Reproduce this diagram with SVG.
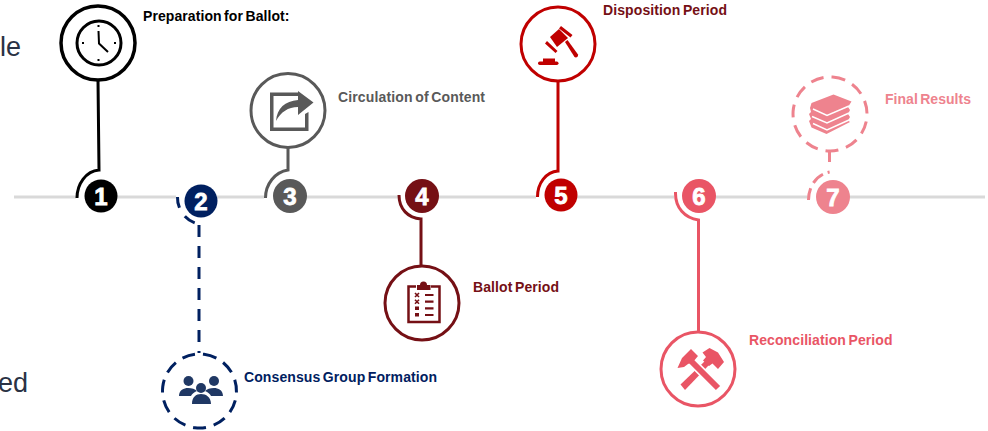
<svg xmlns="http://www.w3.org/2000/svg" width="988" height="431" viewBox="0 0 988 431">
<style>
text{font-family:"Liberation Sans",Arial,sans-serif}
.lbl{font-size:14px;font-weight:700;word-spacing:-1.500px}
.num{font-size:24px;font-weight:700;fill:#fff;text-anchor:middle;stroke:#fff;stroke-width:.8px}
.bg{font-size:27px;fill:#2a3244}
.o{fill:#fff;stroke-width:3px}
.l{fill:none;stroke-width:3px}
.d{stroke-dasharray:13 8}
</style>
<rect width="988" height="431" fill="#fff"/>
<text class="bg" x="0" y="56">le</text>
<text class="bg" x="-2" y="392">ed</text>
<g id="connectors">
<path fill="none" stroke="#d9d9d9" stroke-width="3" d="M14 197H76M117 197H176M217 197H264M306 197H398M438 197H536M577 197H674M715 197H809M849 197H985"/>
<path class="l" stroke="#000" d="M77 198C77 184 86 171 99 170L98 80"/>
<path class="l" stroke="#002060" stroke-dasharray="11 10 12" d="M177.500 197C177 209 186 222 199 224"/>
<path class="l" stroke="#002060" stroke-dasharray="12 9" d="M199 225V353"/>
<path class="l" stroke="#595959" d="M265.500 198C265.500 184 275 172 288 170L288 147"/>
<path class="l" stroke="#751015" d="M399 195C399 209 408 218 421 219L421 267"/>
<path class="l" stroke="#c00000" d="M537.500 197C537.500 183 546 172 558 171L558 81"/>
<path class="l" stroke="#e95565" d="M675.500 192C675 208 685 218 698.500 220L698.500 333"/>
<path class="l" stroke="#ee838e" stroke-dasharray="12 6 13 5 2 9" d="M808.500 200C808.500 186 817 174 830 172"/>
<path class="l" stroke="#ee838e" d="M829.500 162V150"/>
</g>
<g id="node-1">
<circle class="o" stroke="#000" style="stroke-width:3.500px" cx="98" cy="43" r="37"/>
<circle fill="none" stroke="#000" stroke-width="3" cx="99" cy="43" r="22"/>
<path fill="none" stroke="#000" stroke-width="2" d="M98.500 31L99 43.500 108 52"/>
<path stroke="#000" stroke-width="2" d="M98.500 25v2M98.500 59v2M82 43h2M114 43h2"/>
<circle cx="101" cy="196" r="16.500" fill="#000"/>
<text class="num" x="101" y="205">1</text>
<text class="lbl" x="143" y="21" fill="#000" textLength="146.500">Preparation for Ballot:</text>
</g>
<g id="node-2">
<circle class="o d" stroke="#002060" cx="199.500" cy="391" r="37" transform="rotate(-83 199.500 391)"/>
<g fill="#203864">
<circle cx="188.500" cy="381" r="5"/><circle cx="214" cy="381" r="5"/><circle cx="201" cy="388" r="5"/>
<path d="M179 396c0-6 5-8 9-8 4 0 7 1 9 3-3 1-5 3-6 5zM223 396c0-6-5-8-9-8-4 0-7 1-9 3 3 1 5 3 6 5zM192 404c0-7 4-10 9-10s10 3 10 10z"/>
</g>
<circle cx="201" cy="201" r="16.500" fill="#002060"/>
<text class="num" x="201" y="210">2</text>
<text class="lbl" x="244" y="382" fill="#002060" textLength="193">Consensus Group Formation</text>
</g>
<g id="node-3">
<circle class="o" stroke="#595959" cx="288" cy="110.500" r="37"/>
<path fill="#595959" d="M270 92.500H298V96H273.500V127.500H305V114L308.500 112V131H270zM276 121C277 108 285 101 298 100V91L313.500 102.500 298 115V107C288 107 281 112 276 121Z"/>
<circle cx="290" cy="196" r="17" fill="#595959"/>
<text class="num" x="290" y="205">3</text>
<text class="lbl" x="338" y="102" fill="#595959" textLength="147">Circulation of Content</text>
</g>
<g id="node-4">
<circle class="o" stroke="#751015" cx="422" cy="303" r="37"/>
<path fill="none" stroke="#751015" stroke-width="2.500" d="M416 286.500H408.500V322H439.500V286.500H431"/>
<path fill="#751015" d="M417 285H420a3.500 3.500 0 0 1 7 0H430.500V290H417z"/>
<path fill="none" stroke="#751015" stroke-width="2.200" d="M425 295h8.500M425 301.700h8.500M425 308.300h8.500M425 315h8.500"/>
<path fill="none" stroke="#751015" stroke-width="1.600" d="M415 293l4 4m0-4-4 4M415 299.700l4 4m0-4-4 4"/>
<path fill="#751015" d="M415 306.500h4v3.500h-4zM415 313h4v3.500h-4z"/>
<circle cx="422" cy="196" r="17" fill="#751015"/>
<text class="num" x="422" y="205">4</text>
<text class="lbl" x="473" y="292" fill="#751015" textLength="86">Ballot Period</text>
</g>
<g id="node-5">
<circle class="o" stroke="#c00000" cx="558" cy="44" r="37"/>
<g fill="#c00000">
<path d="M550 37L559 29 568 38 557 47z"/>
<path d="M561 26L572.500 35 570.500 37.500 559 28.500zM547 41L557.500 51 555.500 53 545 43.500z"/>
<path d="M565 42L567.500 40 578 54.500C578.500 57 576 58 574.500 57z"/>
<rect x="538" y="61.500" width="20.500" height="3.500" rx="1.700"/>
<rect x="543" y="58.500" width="12" height="3.500"/>
</g>
<circle cx="561" cy="195" r="16.500" fill="#c00000"/>
<text class="num" x="561" y="204">5</text>
<text class="lbl" x="603" y="15" fill="#751015" textLength="124">Disposition Period</text>
</g>
<g id="node-6">
<circle class="o" stroke="#e95565" cx="698" cy="369" r="37"/>
<g fill="#e95565">
<path d="M680.500 384.500L705 361 709 365 685 390z"/>
<path d="M702.500 352.500L709.500 348 718 352.500 724 362 718 369 712.500 363.500 709 366 703 360.500 706 357z"/>
</g>
<path fill="none" stroke="#fff" stroke-width="9" d="M689 359L718 388"/>
<path fill="none" stroke="#e95565" stroke-width="6" d="M689 359L718 388"/>
<path fill="#e95565" d="M677.500 368L682 358 691 349 698 356 693 362 688 364 684 367z"/>
<circle cx="699" cy="196" r="17" fill="#e95565"/>
<text class="num" x="699" y="205">6</text>
<text class="lbl" x="749" y="345" fill="#e95565" textLength="143.500">Reconciliation Period</text>
</g>
<g id="node-7">
<circle class="o d" stroke="#ee838e" cx="830" cy="114" r="37" transform="rotate(-86 830 114)"/>
<path fill="#ee838e" d="M811.500 103L833.500 94.500 851.500 101.500 848 107 850 110 848 114 850 117 848 120.500 850 122 826.500 134 811.500 127.500 809 121 811 119 809 114 811 112 810 108z"/>
<path fill="none" stroke="#fff" stroke-width="1.500" d="M813 109L827 115.500 849 106M812 116.500L827 123 849 113M813 123.500L827 130 849 120"/>
<circle cx="833" cy="197" r="17" fill="#ee838e"/>
<text class="num" x="833" y="206">7</text>
<text class="lbl" x="885" y="104" fill="#ee838e" textLength="86">Final Results</text>
</g>
</svg>
